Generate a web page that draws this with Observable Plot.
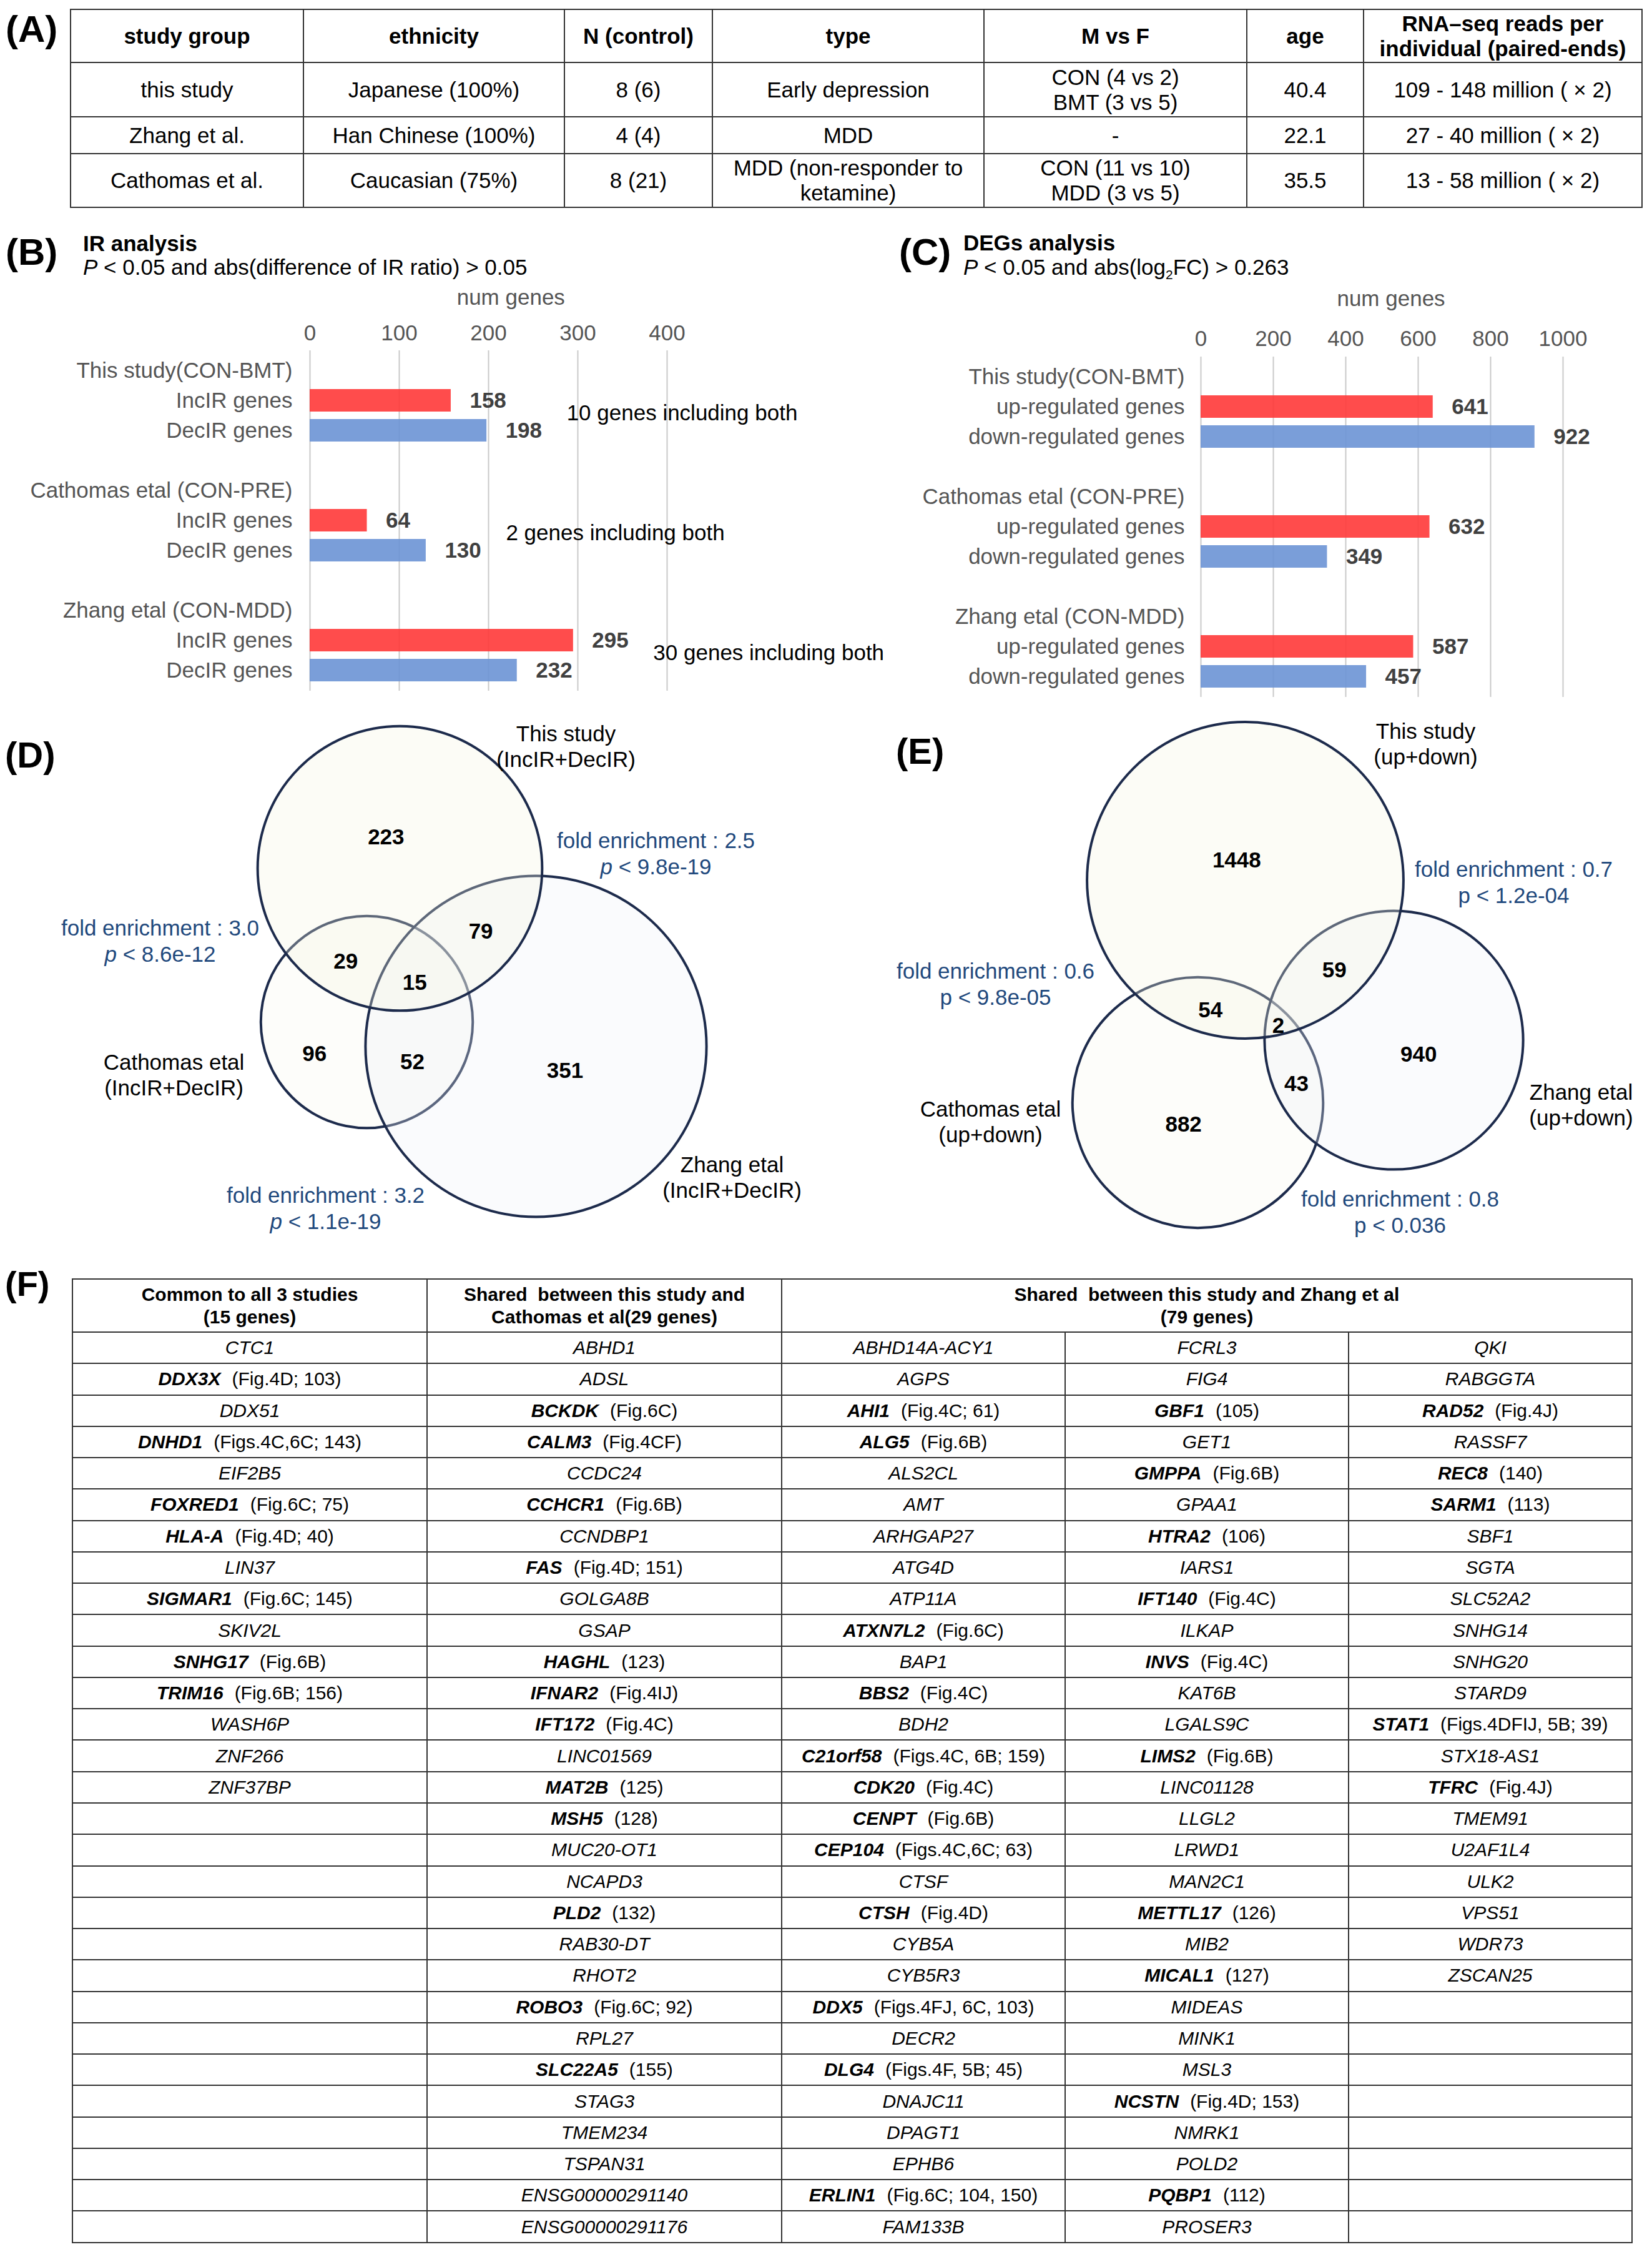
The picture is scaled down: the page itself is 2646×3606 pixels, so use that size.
<!DOCTYPE html>
<html><head><meta charset="utf-8">
<script src="https://cdn.jsdelivr.net/npm/d3@7"></script>
<script src="https://cdn.jsdelivr.net/npm/@observablehq/plot@0.6"></script>
<style>
html,body{margin:0;padding:0;background:#fff;}
#page{position:relative;width:2646px;height:3606px;background:#fff;overflow:hidden;font-family:"Liberation Sans",Arial,Helvetica,sans-serif;color:#000;}
.abs{position:absolute;white-space:nowrap;}
.grid{position:absolute;display:grid;background:#333;gap:2px;padding:2px;box-sizing:border-box;}
.grid>div{background:#fff;display:flex;align-items:center;justify-content:center;text-align:center;white-space:nowrap;}
</style></head><body><div id="page"></div>
<script>
// ---------------- DATA ----------------
// (A) study table
const tableAHeader = ["study group","ethnicity","N (control)","type","M vs F","age","RNA\u2013seq reads per\nindividual (paired-ends)"];
const studyGroup = ["this study","Zhang et al.","Cathomas et al."];
const ethnicity = ["Japanese (100%)","Han Chinese (100%)","Caucasian (75%)"];
const nControl = ["8 (6)","4 (4)","8 (21)"];
const studyType = ["Early depression","MDD","MDD (non-responder to\nketamine)"];
const mVsF = ["CON (4 vs 2)\nBMT (3 vs 5)","-","CON (11 vs 10)\nMDD (3 vs 5)"];
const age = [40.4, 22.1, 35.5];
const readsPerInd = ["109 - 148 million ( \u00d7 2)","27 - 40 million ( \u00d7 2)","13 - 58 million ( \u00d7 2)"];

// (B) IR analysis
const irGroups = ["This study(CON-BMT)","Cathomas etal (CON-PRE)","Zhang etal (CON-MDD)"];
const irKinds = ["IncIR genes","DecIR genes"];
const irInc = [158, 64, 295];
const irDec = [198, 130, 232];
const irBoth = [10, 2, 30];
const irTicks = [0, 100, 200, 300, 400];

// (C) DEGs analysis
const degGroups = ["This study(CON-BMT)","Cathomas etal (CON-PRE)","Zhang etal (CON-MDD)"];
const degKinds = ["up-regulated genes","down-regulated genes"];
const degUp = [641, 632, 587];
const degDown = [922, 349, 457];
const degTicks = [0, 200, 400, 600, 800, 1000];

// Venn regions: membership flags in [This study, Cathomas, Zhang]
const vennRegionKeys = ["100","010","001","110","101","011","111"];
// (D)
const irVennNames = ["This study\n(IncIR+DecIR)","Cathomas etal\n(IncIR+DecIR)","Zhang etal\n(IncIR+DecIR)"];
const irVennCounts = [223, 96, 351, 29, 79, 52, 15];
const irFold = [2.5, 3.0, 3.2];           // This–Zhang, This–Cathomas, Cathomas–Zhang
const irFoldP = ["9.8e-19","8.6e-12","1.1e-19"];
// (E)
const degVennNames = ["This study\n(up+down)","Cathomas etal\n(up+down)","Zhang etal\n(up+down)"];
const degVennCounts = [1448, 882, 940, 54, 59, 43, 2];
const degFold = [0.7, 0.6, 0.8];          // This–Zhang, This–Cathomas, Cathomas–Zhang
const degFoldP = ["1.2e-04","9.8e-05","0.036"];

// (F) gene lists
const fCommonAll = ["CTC1","DDX3X (Fig.4D; 103)","DDX51","DNHD1 (Figs.4C,6C; 143)","EIF2B5","FOXRED1 (Fig.6C; 75)","HLA-A (Fig.4D; 40)","LIN37","SIGMAR1 (Fig.6C; 145)","SKIV2L","SNHG17 (Fig.6B)","TRIM16 (Fig.6B; 156)","WASH6P","ZNF266","ZNF37BP"];
const fSharedCathomas = ["ABHD1","ADSL","BCKDK (Fig.6C)","CALM3 (Fig.4CF)","CCDC24","CCHCR1 (Fig.6B)","CCNDBP1","FAS (Fig.4D; 151)","GOLGA8B","GSAP","HAGHL (123)","IFNAR2 (Fig.4IJ)","IFT172 (Fig.4C)","LINC01569","MAT2B (125)","MSH5 (128)","MUC20-OT1","NCAPD3","PLD2 (132)","RAB30-DT","RHOT2","ROBO3 (Fig.6C; 92)","RPL27","SLC22A5 (155)","STAG3","TMEM234","TSPAN31","ENSG00000291140","ENSG00000291176"];
const fSharedZhang = ["ABHD14A-ACY1","AGPS","AHI1 (Fig.4C; 61)","ALG5 (Fig.6B)","ALS2CL","AMT","ARHGAP27","ATG4D","ATP11A","ATXN7L2 (Fig.6C)","BAP1","BBS2 (Fig.4C)","BDH2","C21orf58 (Figs.4C, 6B; 159)","CDK20 (Fig.4C)","CENPT (Fig.6B)","CEP104 (Figs.4C,6C; 63)","CTSF","CTSH (Fig.4D)","CYB5A","CYB5R3","DDX5 (Figs.4FJ, 6C, 103)","DECR2","DLG4 (Figs.4F, 5B; 45)","DNAJC11","DPAGT1","EPHB6","ERLIN1 (Fig.6C; 104, 150)","FAM133B",
"FCRL3","FIG4","GBF1 (105)","GET1","GMPPA (Fig.6B)","GPAA1","HTRA2 (106)","IARS1","IFT140 (Fig.4C)","ILKAP","INVS (Fig.4C)","KAT6B","LGALS9C","LIMS2 (Fig.6B)","LINC01128","LLGL2","LRWD1","MAN2C1","METTL17 (126)","MIB2","MICAL1 (127)","MIDEAS","MINK1","MSL3","NCSTN (Fig.4D; 153)","NMRK1","POLD2","PQBP1 (112)","PROSER3",
"QKI","RABGGTA","RAD52 (Fig.4J)","RASSF7","REC8 (140)","SARM1 (113)","SBF1","SGTA","SLC52A2","SNHG14","SNHG20","STARD9","STAT1 (Figs.4DFIJ, 5B; 39)","STX18-AS1","TFRC (Fig.4J)","TMEM91","U2AF1L4","ULK2","VPS51","WDR73","ZSCAN25"];

// ---------------- LAYOUT / STYLE ----------------
const FONT = '"Liberation Sans", Arial, Helvetica, sans-serif';
const RED = "#ff3838", BLUE = "#6c94d5", BAR_OPACITY = 0.9;
const NAVY = "#1d2b4c", NOTE_BLUE = "#1f497d";
const VENN_FILLS = ["#f6f5e2", "#f8f8f0", "#eef2f7"];
const LAYOUT_D = {box:[0,1140,1330,870], k:12.25,
  centers:[[640,1390],[587,1636],[858,1675]], names:[[906,1194],[278,1720],[1172,1884]],
  folds:[[1050,1367],[256,1507],[521,1935]], fills:VENN_FILLS, order:[1,2,0], countDx:-6, countDy:10};
const LAYOUT_E = {box:[1330,1140,1316,870], k:6.41,
  centers:[[1994,1409],[1918,1765],[2232,1665]], names:[[2283,1190],[1586,1795],[2532,1768]],
  folds:[[2424,1413],[1594,1576],[2242,1941]], fills:VENN_FILLS, order:[1,2,0], countDx:0, countDy:6};

const page = document.getElementById("page");
function textAt(html, x, baseline, size, bold) {
  const d = document.createElement("div");
  d.className = "abs";
  d.style.left = x + "px";
  d.style.top = (baseline - 0.9215 * size) + "px";
  d.style.fontSize = size + "px";
  d.style.lineHeight = (1.15 * size) + "px";
  if (bold) d.style.fontWeight = "bold";
  d.innerHTML = html;
  page.appendChild(d);
}
function placeSvg(svg, left, top) {
  svg.style.position = "absolute"; svg.style.left = left + "px"; svg.style.top = top + "px";
  page.appendChild(svg);
}
function makeGrid(xs, top, rowH, cells, fontSize, lineH) {
  const g = document.createElement("div");
  g.className = "grid";
  g.style.left = (xs[0] - 1) + "px"; g.style.top = (top - 1) + "px";
  g.style.width = (xs[xs.length - 1] - xs[0] + 2) + "px";
  g.style.gridTemplateColumns = xs.slice(1).map((x, i) => (x - xs[i] - 2) + "px").join(" ");
  g.style.gridTemplateRows = rowH.map(h => h + "px").join(" ");
  g.style.fontSize = fontSize + "px";
  g.style.lineHeight = lineH + "px";
  for (const c of cells) {
    const d = document.createElement("div");
    d.style.gridColumn = `${c.col + 1} / span ${c.span || 1}`;
    d.style.gridRow = `${c.row + 1}`;
    if (c.bold) d.style.fontWeight = "bold";
    d.innerHTML = c.html;
    g.appendChild(d);
  }
  page.appendChild(g);
}
const br = s => String(s).split("\n").join("<br>");

// ---------------- (A) ----------------
textAt("(A)", 9, 67, 60, true);
{
  const cols = [studyGroup, ethnicity, nControl, studyType, mVsF, age, readsPerInd];
  const cells = tableAHeader.map((h, c) => ({col: c, row: 0, html: br(h), bold: true}));
  studyGroup.forEach((_, r) => cols.forEach((col, c) => cells.push({col: c, row: r + 1, html: br(col[r])})));
  makeGrid([113, 486, 904, 1141, 1576, 1997, 2184, 2630], 15, [83, 85, 57, 84], cells, 35, 40);
}

// ---------------- (B) & (C) bar panels ----------------
function barPanel({groups, kinds, a, b, both, ticks, domainMax, left, top, width, x0, xEnd, labelPad, tickPad, axisLabelDy}) {
  const rows = [];
  groups.forEach((g, i) => {
    rows.push({key: `t${i}`, label: g});
    rows.push({key: `a${i}`, label: kinds[0]});
    rows.push({key: `b${i}`, label: kinds[1]});
    if (i < groups.length - 1) rows.push({key: `s${i}`, label: ""});
  });
  const labelOf = new Map(rows.map(r => [r.key, r.label]));
  const bars = groups.flatMap((g, i) => [{key: `a${i}`, value: a[i], kind: "a"}, {key: `b${i}`, value: b[i], kind: "b"}]);
  const notes = both ? groups.map((g, i) => ({key: `a${i}`, value: Math.max(a[i], b[i]), text: `${both[i]} genes including both`})) : [];
  const svg = Plot.plot({
    width, height: 656, marginTop: 106, marginBottom: 5, marginLeft: x0 - left, marginRight: left + width - xEnd,
    style: {background: "transparent", fontFamily: FONT, fontSize: "35px", color: "#555", overflow: "visible"},
    x: {domain: [0, domainMax], axis: null},
    y: {domain: rows.map(r => r.key), padding: 0.24, axis: null},
    color: {domain: ["a", "b"], range: [RED, BLUE]},
    marks: [
      Plot.gridX(ticks, {stroke: "#c9c9c9", strokeOpacity: 1, strokeWidth: 2}),
      Plot.barX(bars, {x: "value", y: "key", fill: "kind", fillOpacity: BAR_OPACITY}),
      Plot.text(bars, {x: "value", y: "key", text: d => String(d.value), textAnchor: "start", dx: 30, fontWeight: "bold", fill: "#404040"}),
      Plot.text(notes, {x: "value", y: "key", text: "text", textAnchor: "start", dx: 128, dy: 20, fill: "#000"}),
      Plot.axisX(ticks, {anchor: "top", tickSize: 0, tickPadding: tickPad, tickFormat: d => String(d), label: null}),
      Plot.axisY({tickSize: 0, tickPadding: labelPad, tickFormat: k => labelOf.get(k), label: null}),
      Plot.text(["num genes"], {frameAnchor: "top", dy: axisLabelDy, lineAnchor: "bottom", fill: "#555"})
    ]
  });
  placeSvg(svg, left, top);
}

textAt("(B)", 9, 424, 60, true);
textAt("IR analysis", 133, 402, 35, true);
textAt("<i>P</i> &lt; 0.05 and abs(difference of IR ratio) &gt; 0.05", 133, 440, 35);
barPanel({groups: irGroups, kinds: irKinds, a: irInc, b: irDec, both: irBoth, ticks: irTicks, domainMax: 450,
  left: 0, top: 455, width: 1425, x0: 496, xEnd: 496 + 450 * 1.43, labelPad: 28, tickPad: 17, axisLabelDy: -74});

textAt("(C)", 1440, 424, 60, true);
textAt("DEGs analysis", 1543, 401, 35, true);
textAt("<i>P</i> &lt; 0.05 and abs(log<span style='font-size:0.6em;position:relative;top:0.35em'>2</span>FC) &gt; 0.263", 1543, 440, 35);
barPanel({groups: degGroups, kinds: degKinds, a: degUp, b: degDown, both: null, ticks: degTicks, domainMax: 1050,
  left: 1430, top: 465, width: 1216, x0: 1923, xEnd: 1923 + 1050 * 0.58, labelPad: 26, tickPad: 18, axisLabelDy: -82});

// ---------------- (D) & (E) Venn panels ----------------
function regionCentroids(geo, keys) {
  const acc = new Map(keys.map(k => [k, {sx: 0, sy: 0, n: 0}]));
  const x0 = d3.min(geo, c => c.cx - c.r), x1 = d3.max(geo, c => c.cx + c.r);
  const y0 = d3.min(geo, c => c.cy - c.r), y1 = d3.max(geo, c => c.cy + c.r);
  for (let x = x0; x <= x1; x += 2) for (let y = y0; y <= y1; y += 2) {
    const key = geo.map(c => ((x - c.cx) ** 2 + (y - c.cy) ** 2 < c.r * c.r) ? "1" : "0").join("");
    const a = acc.get(key);
    if (a) { a.sx += x; a.sy += y; a.n++; }
  }
  return keys.map(k => { const a = acc.get(k); return [a.sx / a.n, a.sy / a.n]; });
}
function vennPanel({names, keys, counts, folds, foldP, italicP, L}) {
  const [bx, by, bw, bh] = L.box;
  const totals = names.map((_, i) => d3.sum(keys, (k, j) => k[i] === "1" ? counts[j] : 0));
  const maxT = d3.max(totals);
  const rRange = [0, L.k * Math.sqrt(maxT)];
  const rScale = d3.scaleSqrt().domain([0, maxT]).range(rRange);
  const circles = names.map((n, i) => ({name: n, total: totals[i], cx: L.centers[i][0], cy: L.centers[i][1], fill: L.fills[i]}));
  const geo = circles.map(c => ({...c, r: rScale(c.total)}));
  const cents = regionCentroids(geo, keys);
  const regions = keys.map((k, j) => ({key: k, count: counts[j], x: cents[j][0], y: cents[j][1]}));
  const labels = names.map((n, i) => ({text: n, x: L.names[i][0], y: L.names[i][1]}));
  const foldRows = folds.map((f, i) => ({l1: `fold enrichment : ${f.toFixed(1)}`, l2: `p < ${foldP[i]}`, x: L.folds[i][0], y: L.folds[i][1]}));
  const svg = Plot.plot({
    width: bw, height: bh, margin: 0,
    style: {background: "transparent", fontFamily: FONT, fontSize: "35px", color: "#000", overflow: "visible"},
    x: {domain: [bx, bx + bw], range: [0, bw], axis: null},
    y: {domain: [by, by + bh], range: [0, bh], axis: null},
    r: {type: "sqrt", domain: [0, maxT], range: rRange},
    color: {type: "identity"},
    marks: [
      Plot.dot(L.order.map(i => circles[i]), {x: "cx", y: "cy", r: "total", fill: "fill", fillOpacity: 0.3, stroke: NAVY, strokeWidth: 4, sort: null}),
      Plot.text(regions, {x: "x", y: "y", text: d => String(d.count), dx: L.countDx, dy: L.countDy, fontWeight: "bold", fill: "#000"}),
      Plot.text(labels, {x: "x", y: "y", text: "text", lineHeight: 1.15, fill: "#000"}),
      Plot.text(foldRows, {x: "x", y: "y", text: "l1", dy: -21, fill: NOTE_BLUE}),
      Plot.text(foldRows, {x: "x", y: "y", text: "l2", dy: 21, fill: NOTE_BLUE})
    ]
  });
  if (italicP) svg.querySelectorAll("text").forEach(t => {
    if (t.childElementCount === 0 && t.textContent.startsWith("p < ")) {
      const rest = t.textContent.slice(1);
      t.textContent = "";
      const ts = document.createElementNS("http://www.w3.org/2000/svg", "tspan");
      ts.setAttribute("font-style", "italic"); ts.textContent = "p";
      t.appendChild(ts); t.appendChild(document.createTextNode(rest));
    }
  });
  placeSvg(svg, bx, by);
}
textAt("(D)", 8, 1229, 58, true);
vennPanel({names: irVennNames, keys: vennRegionKeys, counts: irVennCounts, folds: irFold, foldP: irFoldP, italicP: true, L: LAYOUT_D});
textAt("(E)", 1435, 1223, 58, true);
vennPanel({names: degVennNames, keys: vennRegionKeys, counts: degVennCounts, folds: degFold, foldP: degFoldP, italicP: false, L: LAYOUT_E});

// ---------------- (F) ----------------
textAt("(F)", 8, 2076, 56, true);
{
  const geneCell = s => {
    if (!s) return "";
    const m = s.match(/^(\S+)\s+(\(.*\))$/);
    return m ? `<b><i>${m[1]}</i></b><span style="margin-left:0.6em">${m[2]}</span>` : `<i>${s}</i>`;
  };
  const nRows = Math.max(fCommonAll.length, fSharedCathomas.length, Math.ceil(fSharedZhang.length / 3));
  const zCols = [0, 1, 2].map(c => fSharedZhang.slice(c * nRows, (c + 1) * nRows));
  const cols = [fCommonAll, fSharedCathomas, ...zCols];
  const sp = "&nbsp; ";
  const cells = [
    {col: 0, row: 0, bold: true, html: `Common to all 3 studies<br>(${fCommonAll.length} genes)`},
    {col: 1, row: 0, bold: true, html: `Shared${sp}between this study and<br>Cathomas et al(${fSharedCathomas.length} genes)`},
    {col: 2, row: 0, span: 3, bold: true, html: `Shared${sp}between this study and Zhang et al<br>(${fSharedZhang.length} genes)`}
  ];
  for (let r = 0; r < nRows; r++) cols.forEach((col, c) => cells.push({col: c, row: r + 1, html: geneCell(col[r])}));
  const rowH = [83, ...d3.range(nRows).map(() => (3591 - 2133) / nRows - 2)];
  makeGrid([116, 684, 1252, 1706, 2160, 2614], 2048, rowH, cells, 30, 36);
}
</script></body></html>
